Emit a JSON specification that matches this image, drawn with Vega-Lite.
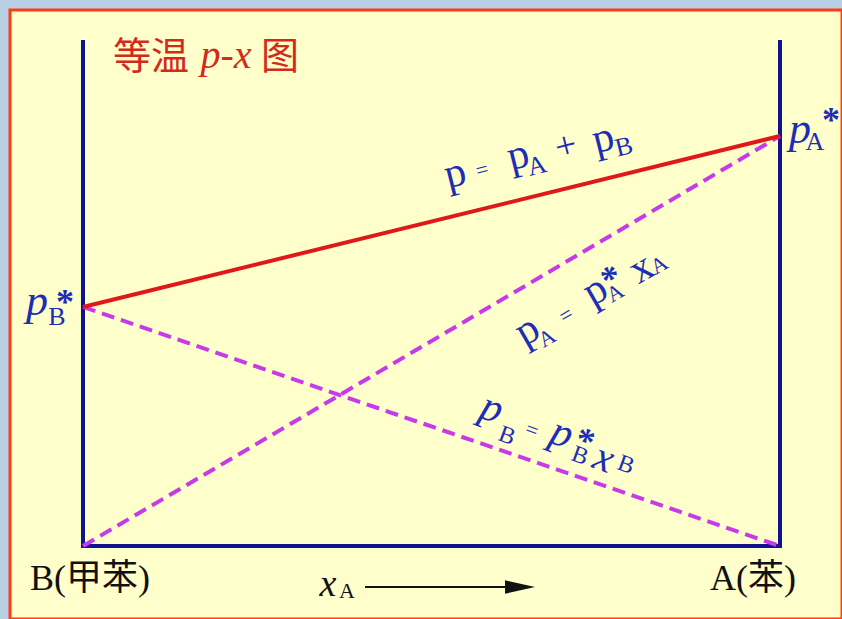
{
  "$schema": "https://vega.github.io/schema/vega-lite/v6.json",
  "width": 842,
  "height": 619,
  "autosize": {"type": "fit", "contains": "padding"},
  "padding": {"left": 10, "top": 10, "right": 0, "bottom": 0},
  "background": "#B8CFE4",
  "config": {"view": {"fill": "#FFFFCC", "stroke": "#FF3D12", "strokeWidth": 3}},
  "datasets": {
    "ln": [
      {"s": "frame", "x": 0, "y": 123.4, "o": 1},
      {"s": "frame", "x": 0, "y": 0, "o": 2},
      {"s": "frame", "x": 1, "y": 0, "o": 3},
      {"s": "frame", "x": 1, "y": 123.4, "o": 4},
      {"s": "pA", "x": 0, "y": 0, "o": 1},
      {"s": "pA", "x": 1, "y": 100, "o": 2},
      {"s": "pB", "x": 0, "y": 58.3, "o": 1},
      {"s": "pB", "x": 1, "y": 0, "o": 2},
      {"s": "total", "x": 0, "y": 58.3, "o": 1},
      {"s": "total", "x": 1, "y": 100, "o": 2},
      {"s": "arrow", "x": 0.4046, "y": -10, "o": 1},
      {"s": "arrow", "x": 0.6126, "y": -10, "o": 2}
    ],
    "ah": [{"x": 0.627, "y": -10}],
    "t": [
      {"g": "r1p", "text": "p", "x": 0.5337, "y": 90.98},
      {"g": "r1p", "text": "p", "x": 0.6241, "y": 95.37},
      {"g": "r1p", "text": "p", "x": 0.7461, "y": 99.51},
      {"g": "r1s", "text": "A", "x": 0.6514, "y": 92.68},
      {"g": "r1s", "text": "B", "x": 0.7762, "y": 97.32},
      {"g": "r1eq", "text": "=", "x": 0.5725, "y": 91.71},
      {"g": "r1plus", "text": "+", "x": 0.693, "y": 97.32},
      {"g": "r2p", "text": "p", "x": 0.637, "y": 52.68},
      {"g": "r2p", "text": "p", "x": 0.7346, "y": 62.44},
      {"g": "r2p", "text": "x", "x": 0.8006, "y": 67.8},
      {"g": "r2s", "text": "A", "x": 0.6657, "y": 50.73},
      {"g": "r2s", "text": "A", "x": 0.7633, "y": 61.71},
      {"g": "r2s", "text": "A", "x": 0.8264, "y": 68.54},
      {"g": "r2eq", "text": "=", "x": 0.693, "y": 56.34},
      {"g": "r2ast", "text": "*", "x": 0.7518, "y": 67.32},
      {"g": "r3p", "text": "p", "x": 0.5868, "y": 33.66},
      {"g": "r3p", "text": "p", "x": 0.6872, "y": 27.56},
      {"g": "r3p", "text": "x", "x": 0.7475, "y": 21.46},
      {"g": "r3s", "text": "B", "x": 0.6083, "y": 26.83},
      {"g": "r3s", "text": "B", "x": 0.7131, "y": 21.95},
      {"g": "r3s", "text": "B", "x": 0.779, "y": 19.76},
      {"g": "r3eq", "text": "=", "x": 0.6442, "y": 28.29},
      {"g": "r3ast", "text": "*", "x": 0.7245, "y": 27.8},
      {"g": "r0p", "text": "p", "x": -0.066, "y": 59.51},
      {"g": "r0p", "text": "p", "x": 1.0287, "y": 101.46},
      {"g": "r0s", "text": "B", "x": -0.0373, "y": 55.85},
      {"g": "r0s", "text": "A", "x": 1.0502, "y": 98.54},
      {"g": "r0ast", "text": "*", "x": -0.0258, "y": 61.71},
      {"g": "r0ast", "text": "*", "x": 1.0732, "y": 106.1},
      {"g": "tcjk", "text": "等温", "x": 0.0976, "y": 119.02},
      {"g": "tcjk", "text": "图", "x": 0.2826, "y": 119.02},
      {"g": "tpx", "text": "p-x", "x": 0.2052, "y": 119.51},
      {"g": "bl", "text": "B(甲苯)", "x": -0.076, "y": -8.05},
      {"g": "bl", "text": "A(苯)", "x": 0.8996, "y": -8.05},
      {"g": "bx", "text": "x", "x": 0.3515, "y": -9.51},
      {"g": "bs", "text": "A", "x": 0.3788, "y": -10.98}
    ]
  },
  "encoding": {
    "x": {"field": "x", "type": "quantitative", "scale": {"domain": [-0.10473, 1.08895], "nice": false, "zero": false}, "axis": null},
    "y": {"field": "y", "type": "quantitative", "scale": {"domain": [-17.8, 130.73], "nice": false, "zero": false}, "axis": null}
  },
  "layer": [
    {"data": {"name": "ln"}, "transform": [{"filter": "datum.s === 'frame'"}], "mark": {"type": "line", "color": "#12128E", "strokeWidth": 4, "strokeJoin": "miter"}, "encoding": {"order": {"field": "o", "type": "quantitative"}}},
    {"data": {"name": "ln"}, "transform": [{"filter": "datum.s === 'pA' || datum.s === 'pB'"}], "mark": {"type": "line", "color": "#C63AE8", "strokeWidth": 4, "strokeDash": [13, 7]}, "encoding": {"detail": {"field": "s"}, "order": {"field": "o", "type": "quantitative"}}},
    {"data": {"name": "ln"}, "transform": [{"filter": "datum.s === 'total'"}], "mark": {"type": "line", "color": "#E01818", "strokeWidth": 4}, "encoding": {"order": {"field": "o", "type": "quantitative"}}},
    {"data": {"name": "ln"}, "transform": [{"filter": "datum.s === 'arrow'"}], "mark": {"type": "line", "color": "#111111", "strokeWidth": 2}, "encoding": {"order": {"field": "o", "type": "quantitative"}}},
    {"data": {"name": "ah"}, "mark": {"type": "point", "shape": "M-1,-0.45L1,0L-1,0.45Z", "filled": true, "color": "#111111", "opacity": 1, "size": 900}},
    {"data": {"name": "t"}, "transform": [{"filter": "datum.g === 'r1p'"}], "mark": {"type": "text", "font": "Liberation Serif", "fontSize": 42, "angle": -14, "align": "center", "baseline": "middle", "color": "#1E2DB5"}, "encoding": {"text": {"field": "text"}}},
    {"data": {"name": "t"}, "transform": [{"filter": "datum.g === 'r1s'"}], "mark": {"type": "text", "font": "Liberation Serif", "fontSize": 26, "angle": -14, "align": "center", "baseline": "middle", "color": "#1E2DB5"}, "encoding": {"text": {"field": "text"}}},
    {"data": {"name": "t"}, "transform": [{"filter": "datum.g === 'r1eq'"}], "mark": {"type": "text", "font": "Liberation Serif", "fontSize": 22, "angle": -14, "align": "center", "baseline": "middle", "color": "#1E2DB5"}, "encoding": {"text": {"field": "text"}}},
    {"data": {"name": "t"}, "transform": [{"filter": "datum.g === 'r1plus'"}], "mark": {"type": "text", "font": "Liberation Serif", "fontSize": 38, "angle": -14, "align": "center", "baseline": "middle", "color": "#1E2DB5"}, "encoding": {"text": {"field": "text"}}},
    {"data": {"name": "t"}, "transform": [{"filter": "datum.g === 'r2p'"}], "mark": {"type": "text", "font": "Liberation Serif", "fontSize": 42, "angle": -30, "align": "center", "baseline": "middle", "color": "#1E2DB5"}, "encoding": {"text": {"field": "text"}}},
    {"data": {"name": "t"}, "transform": [{"filter": "datum.g === 'r2s'"}], "mark": {"type": "text", "font": "Liberation Serif", "fontSize": 22, "angle": -30, "align": "center", "baseline": "middle", "color": "#1E2DB5"}, "encoding": {"text": {"field": "text"}}},
    {"data": {"name": "t"}, "transform": [{"filter": "datum.g === 'r2eq'"}], "mark": {"type": "text", "font": "Liberation Serif", "fontSize": 22, "angle": -30, "align": "center", "baseline": "middle", "color": "#1E2DB5"}, "encoding": {"text": {"field": "text"}}},
    {"data": {"name": "t"}, "transform": [{"filter": "datum.g === 'r2ast'"}], "mark": {"type": "text", "font": "Liberation Serif", "fontWeight": "bold", "fontSize": 36, "angle": -30, "align": "center", "baseline": "middle", "dy": 10, "color": "#1E2DB5"}, "encoding": {"text": {"field": "text"}}},
    {"data": {"name": "t"}, "transform": [{"filter": "datum.g === 'r3p'"}], "mark": {"type": "text", "font": "Liberation Serif", "fontStyle": "italic", "fontSize": 42, "angle": 20, "align": "center", "baseline": "middle", "color": "#1E2DB5"}, "encoding": {"text": {"field": "text"}}},
    {"data": {"name": "t"}, "transform": [{"filter": "datum.g === 'r3s'"}], "mark": {"type": "text", "font": "Liberation Serif", "fontSize": 24, "angle": 20, "align": "center", "baseline": "middle", "color": "#1E2DB5"}, "encoding": {"text": {"field": "text"}}},
    {"data": {"name": "t"}, "transform": [{"filter": "datum.g === 'r3eq'"}], "mark": {"type": "text", "font": "Liberation Serif", "fontSize": 22, "angle": 20, "align": "center", "baseline": "middle", "color": "#1E2DB5"}, "encoding": {"text": {"field": "text"}}},
    {"data": {"name": "t"}, "transform": [{"filter": "datum.g === 'r3ast'"}], "mark": {"type": "text", "font": "Liberation Serif", "fontWeight": "bold", "fontSize": 36, "angle": 20, "align": "center", "baseline": "middle", "dy": 10, "color": "#1E2DB5"}, "encoding": {"text": {"field": "text"}}},
    {"data": {"name": "t"}, "transform": [{"filter": "datum.g === 'r0p'"}], "mark": {"type": "text", "font": "Liberation Serif", "fontStyle": "italic", "fontSize": 44, "align": "center", "baseline": "middle", "color": "#1E2DB5"}, "encoding": {"text": {"field": "text"}}},
    {"data": {"name": "t"}, "transform": [{"filter": "datum.g === 'r0s'"}], "mark": {"type": "text", "font": "Liberation Serif", "fontSize": 26, "align": "center", "baseline": "middle", "color": "#1E2DB5"}, "encoding": {"text": {"field": "text"}}},
    {"data": {"name": "t"}, "transform": [{"filter": "datum.g === 'r0ast'"}], "mark": {"type": "text", "font": "Liberation Serif", "fontWeight": "bold", "fontSize": 36, "align": "center", "baseline": "middle", "dy": 10, "color": "#1E2DB5"}, "encoding": {"text": {"field": "text"}}},
    {"data": {"name": "t"}, "transform": [{"filter": "datum.g === 'tcjk'"}], "mark": {"type": "text", "font": "Noto Sans CJK SC", "fontSize": 38, "align": "center", "baseline": "middle", "color": "#D42A1A"}, "encoding": {"text": {"field": "text"}}},
    {"data": {"name": "t"}, "transform": [{"filter": "datum.g === 'tpx'"}], "mark": {"type": "text", "font": "Liberation Serif", "fontStyle": "italic", "fontSize": 40, "align": "center", "baseline": "middle", "color": "#D42A1A"}, "encoding": {"text": {"field": "text"}}},
    {"data": {"name": "t"}, "transform": [{"filter": "datum.g === 'bl'"}], "mark": {"type": "text", "font": "Liberation Serif, Noto Sans CJK SC", "fontSize": 36, "align": "left", "baseline": "middle", "color": "#111111"}, "encoding": {"text": {"field": "text"}}},
    {"data": {"name": "t"}, "transform": [{"filter": "datum.g === 'bx'"}], "mark": {"type": "text", "font": "Liberation Serif", "fontStyle": "italic", "fontSize": 38, "align": "center", "baseline": "middle", "color": "#111111"}, "encoding": {"text": {"field": "text"}}},
    {"data": {"name": "t"}, "transform": [{"filter": "datum.g === 'bs'"}], "mark": {"type": "text", "font": "Liberation Serif", "fontSize": 22, "align": "center", "baseline": "middle", "color": "#111111"}, "encoding": {"text": {"field": "text"}}}
  ]
}
